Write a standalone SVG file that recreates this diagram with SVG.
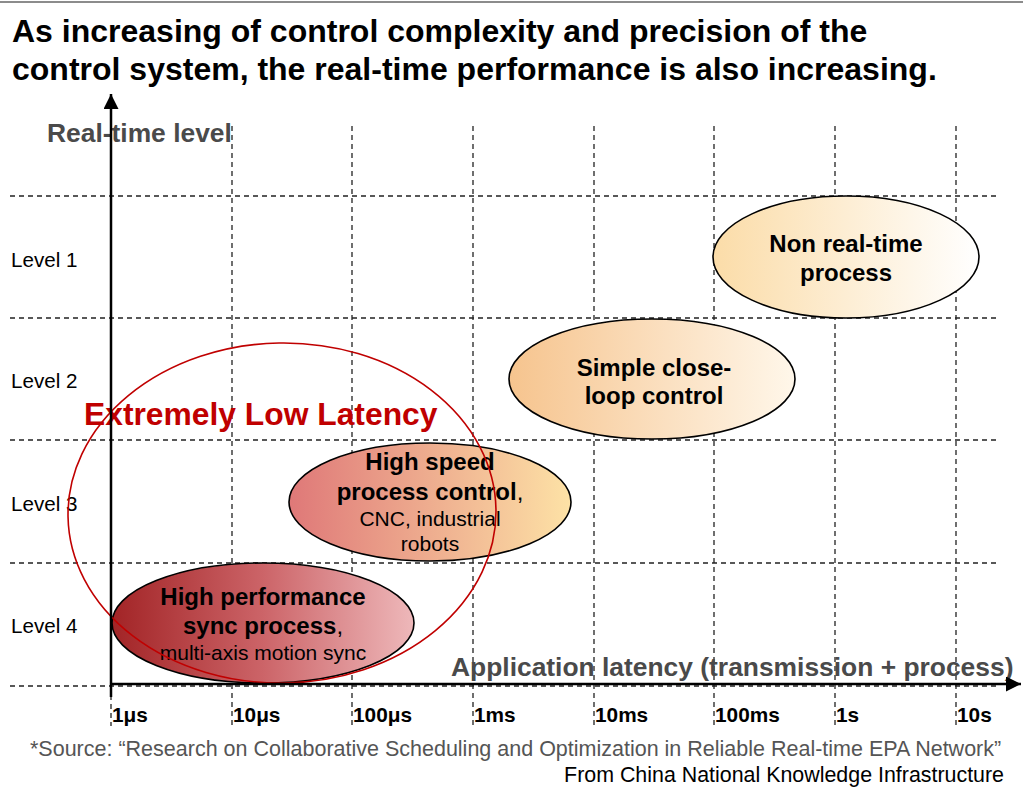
<svg xmlns="http://www.w3.org/2000/svg" width="1023" height="792" viewBox="0 0 1023 792">
  <defs>
    <style>
      text { font-family: "Liberation Sans", Arial, sans-serif; }
      .title { font-size: 32px; font-weight: bold; fill: #000; }
      .axis-label { font-size: 26.4px; font-weight: bold; fill: #4a4a4a; }
      .level { font-size: 20.6px; fill: #000; }
      .tick { font-size: 20.8px; font-weight: bold; fill: #000; }
      .node-main { font-size: 24px; font-weight: bold; fill: #000; text-anchor: middle; }
      .node-sub { font-size: 21px; fill: #000; text-anchor: middle; }
      .plain { font-weight: normal; }
      .grid { stroke: #222; stroke-width: 1.3; stroke-dasharray: 5 4; fill: none; }
      .axis { stroke: #000; stroke-width: 2.5; fill: none; }
      .bubble { stroke: #000; stroke-width: 1.6; }
      .zone { fill: none; stroke: #C00000; stroke-width: 1.6; }
      .zone-label { font-size: 31.8px; font-weight: bold; fill: #C00000; }
      .source { font-size: 21.5px; fill: #555; }
      .credit { font-size: 21.4px; fill: #000; text-anchor: end; }
    </style>
    <linearGradient id="gSync" x1="0" y1="0" x2="1" y2="0">
      <stop offset="0" stop-color="#A22426"/>
      <stop offset="0.5" stop-color="#CC6468"/>
      <stop offset="1" stop-color="#EEB8BA"/>
    </linearGradient>
    <linearGradient id="gSpeed" x1="0" y1="0" x2="1" y2="0">
      <stop offset="0" stop-color="#DF7878"/>
      <stop offset="1" stop-color="#FDE2A6"/>
    </linearGradient>
    <linearGradient id="gLoop" x1="0" y1="0" x2="1" y2="0">
      <stop offset="0" stop-color="#F6C48E"/>
      <stop offset="1" stop-color="#FFF7EA"/>
    </linearGradient>
    <linearGradient id="gNon" x1="0" y1="0" x2="1" y2="0">
      <stop offset="0" stop-color="#FBDCA8"/>
      <stop offset="1" stop-color="#FFFFFF"/>
    </linearGradient>
    <marker id="arrow" viewBox="0 0 10 10" refX="10" refY="5" markerWidth="6" markerHeight="6" markerUnits="strokeWidth" orient="auto">
      <path d="M0,0 L10,5 L0,10 Z" fill="#000"/>
    </marker>
  </defs>

  <rect width="1023" height="792" fill="#fff"/>
  <line x1="0" y1="2" x2="1023" y2="2" stroke="#8c8c8c" stroke-width="2"/>

  <!-- heading -->
  <text class="title" x="12" y="42">As increasing of control complexity and precision of the</text>
  <text class="title" x="12" y="80">control system, the real-time performance is also increasing.</text>

  <!-- dashed grid -->
  <g id="grid">
    <line class="grid" x1="10" y1="196" x2="998" y2="196"/>
    <line class="grid" x1="10" y1="318" x2="998" y2="318"/>
    <line class="grid" x1="10" y1="440" x2="998" y2="440"/>
    <line class="grid" x1="10" y1="563" x2="998" y2="563"/>
    <line class="grid" x1="10" y1="686" x2="998" y2="686"/>
    <line class="grid" x1="111" y1="686" x2="111" y2="726"/>
    <line class="grid" x1="232" y1="126" x2="232" y2="726"/>
    <line class="grid" x1="352" y1="126" x2="352" y2="726"/>
    <line class="grid" x1="473" y1="126" x2="473" y2="726"/>
    <line class="grid" x1="594" y1="126" x2="594" y2="726"/>
    <line class="grid" x1="714" y1="126" x2="714" y2="726"/>
    <line class="grid" x1="835" y1="126" x2="835" y2="726"/>
    <line class="grid" x1="956" y1="126" x2="956" y2="726"/>
  </g>

  <!-- axis labels -->
  <text class="axis-label" x="47" y="142">Real-time level</text>
  <text class="axis-label" x="451" y="676">Application latency (transmission + process)</text>

  <g id="levels">
    <text class="level" x="11" y="267">Level 1</text>
    <text class="level" x="11" y="388">Level 2</text>
    <text class="level" x="11" y="511">Level 3</text>
    <text class="level" x="11" y="633">Level 4</text>
  </g>

  <g id="ticks">
    <text class="tick" x="112" y="722">1μs</text>
    <text class="tick" x="233" y="722">10μs</text>
    <text class="tick" x="353" y="722">100μs</text>
    <text class="tick" x="474" y="722">1ms</text>
    <text class="tick" x="595" y="722">10ms</text>
    <text class="tick" x="715" y="722">100ms</text>
    <text class="tick" x="836" y="722">1s</text>
    <text class="tick" x="957" y="722">10s</text>
  </g>

  <!-- process classes -->
  <g id="non-realtime">
    <ellipse class="bubble" cx="846" cy="257" rx="133" ry="61" fill="url(#gNon)"/>
    <text class="node-main" x="846" y="252">Non real-time</text>
    <text class="node-main" x="846" y="281">process</text>
  </g>

  <g id="close-loop">
    <ellipse class="bubble" cx="652" cy="379" rx="143" ry="60" fill="url(#gLoop)"/>
    <text class="node-main" x="654" y="376">Simple close-</text>
    <text class="node-main" x="654" y="404">loop control</text>
  </g>

  <g id="high-speed">
    <ellipse class="bubble" cx="430" cy="502" rx="141" ry="59" fill="url(#gSpeed)"/>
    <text class="node-main" x="430" y="470">High speed</text>
    <text class="node-main" x="430" y="500">process control<tspan class="plain">,</tspan></text>
    <text class="node-sub" x="430" y="526">CNC, industrial</text>
    <text class="node-sub" x="430" y="551">robots</text>
  </g>

  <g id="high-performance">
    <ellipse class="bubble" cx="263" cy="623" rx="151" ry="60" fill="url(#gSync)"/>
    <text class="node-main" x="263" y="605">High performance</text>
    <text class="node-main" x="263" y="634">sync process<tspan class="plain">,</tspan></text>
    <text class="node-sub" x="263" y="660">multi-axis motion sync</text>
  </g>

  <!-- low-latency zone -->
  <g id="low-latency-zone">
    <ellipse class="zone" cx="282" cy="513" rx="214" ry="170" transform="rotate(-1 282 513)"/>
    <text class="zone-label" x="84" y="425">Extremely Low Latency</text>
  </g>

  <!-- axes -->
  <g id="connectors">
    <line class="axis" x1="111" y1="697" x2="111" y2="94" marker-end="url(#arrow)"/>
    <line class="axis" x1="110" y1="684" x2="1021" y2="684" marker-end="url(#arrow)"/>
  </g>

  <!-- citation -->
  <text class="source" x="30" y="756">*Source: “Research on Collaborative Scheduling and Optimization in Reliable Real-time EPA Network”</text>
  <text class="credit" x="1004" y="782">From China National Knowledge Infrastructure</text>
</svg>
